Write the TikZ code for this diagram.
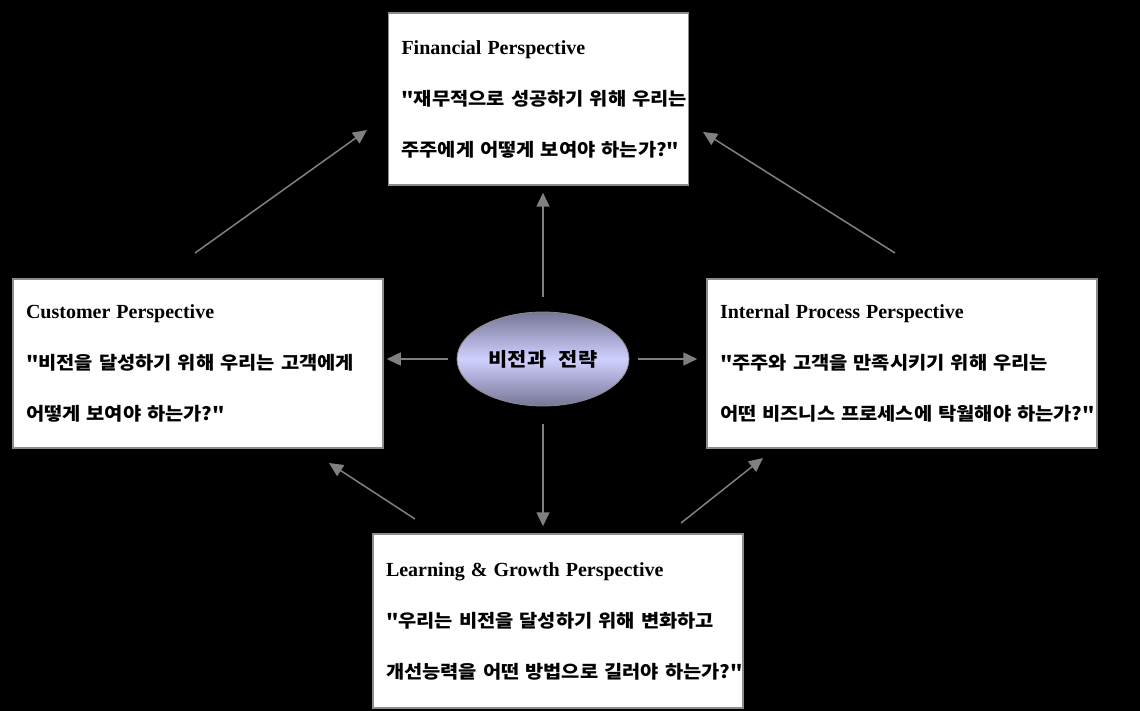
\documentclass[tikz,border=0pt]{standalone}
\usepackage{fontspec}
\setmainfont{Liberation Serif}
\newfontfamily\kor{Noto Sans CJK KR}[WordSpace=2.6,FakeStretch=1.1]
\usetikzlibrary{shapes.geometric,arrows.meta}
\definecolor{arrowgray}{RGB}{128,128,128}
\definecolor{boxgray}{RGB}{140,140,140}
\definecolor{ovaledge}{RGB}{118,118,150}
\definecolor{ovalmid}{RGB}{208,208,255}
\newcommand{\persphead}[1]{{\rmfamily\bfseries\fontsize{20}{51}\selectfont #1}}
\tikzstyle{arrow} = [line width=1.5pt, draw=arrowgray, -{Triangle[length=14pt,width=13pt]}]
\tikzset{
 persp/.style
  = {rectangle, draw=boxgray, line width=1.5pt, fill=white, inner xsep=13pt,
     inner ysep=0pt, align=left, font=\kor\bfseries\fontsize{18}{51}\selectfont},
 vision/.style
  = {ellipse, draw=boxgray, line width=0.8pt, top color=ovaledge, bottom color=ovaledge,
     middle color=ovalmid, minimum width=172pt, minimum height=94pt, inner sep=0pt,
     font=\kor\bfseries\fontsize{19}{24}\selectfont},
}

\begin{document}
\begin{tikzpicture}[x=1pt,y=-1pt]

% Background
\fill[black] (0,0) rectangle (1140,711);

% Financial perspective
\node[persp, text width=274pt, minimum height=172pt] (fin) at (538.5,99)
  {\persphead{Financial Perspective}\\"재무적으로~성공하기~위해~우리는\\주주에게~어떻게~보여야~하는가?"};

% Customer perspective
\node[persp, text width=344pt, minimum height=169pt] (cus) at (198,363.5)
  {\persphead{Customer Perspective}\\"비전을~달성하기~위해~우리는~고객에게\\어떻게~보여야~하는가?"};

% Internal process perspective
\node[persp, text width=364pt, minimum height=169pt] (int) at (902,363.5)
  {\persphead{Internal Process Perspective}\\"주주와~고객을~만족시키기~위해~우리는\\어떤~비즈니스~프로세스에~탁월해야~하는가?"};

% Learning and growth perspective
\node[persp, text width=344pt, minimum height=174pt] (lrn) at (558,621)
  {\persphead{Learning \& Growth Perspective}\\"우리는~비전을~달성하기~위해~변화하고\\개선능력을~어떤~방법으로~길러야~하는가?"};

% Vision and strategy
\node[vision] (vis) at (543,359) {비전과 전략};

% Arrows from the vision
\draw[arrow, shorten <=15pt, shorten >=7pt] (vis.north) -- (vis.north |- fin.south);
\draw[arrow, shorten <=9pt, shorten >=3pt] (vis.west) -- (vis.west -| cus.east);
\draw[arrow, shorten <=9pt, shorten >=9pt] (vis.east) -- (vis.east -| int.west);
\draw[arrow, shorten <=18pt, shorten >=7pt] (vis.south) -- (vis.south |- lrn.north);

% Arrow ends between the boxes
\coordinate (cusTop) at (195,253);
\coordinate (finLeft) at (367,130);
\coordinate (intTop) at (895,253);
\coordinate (finRight) at (703,132);
\coordinate (lrnLeft) at (415,519);
\coordinate (cusLow) at (329,463);
\coordinate (lrnRight) at (681,523);
\coordinate (intLow) at (763,458);

% Arrows between the boxes
\draw[arrow] (cusTop) -- (finLeft);
\draw[arrow] (intTop) -- (finRight);
\draw[arrow] (lrnLeft) -- (cusLow);
\draw[arrow] (lrnRight) -- (intLow);

\end{tikzpicture}
\end{document}
